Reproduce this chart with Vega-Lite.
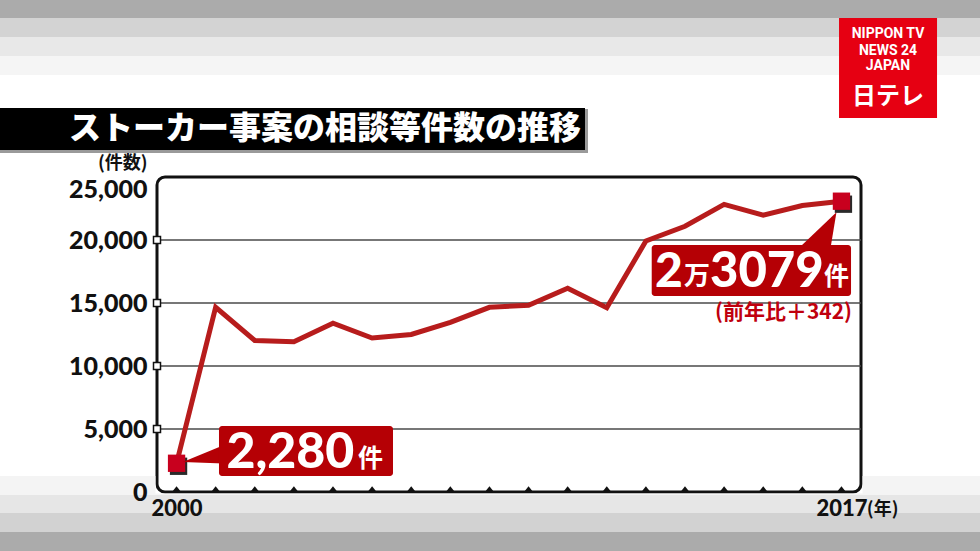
{
  "$schema": "https://vega.github.io/schema/vega-lite/v6.json",
  "width": 704,
  "height": 315,
  "autosize": {"type": "none"},
  "padding": {"left": 157, "top": 177, "right": 119, "bottom": 59},
  "background": "white",
  "config": {
    "view": {"fill": "white", "stroke": "#111111", "strokeWidth": 3, "cornerRadius": 8},
    "axis": {"zindex": 1, "domain": false, "ticks": false, "grid": false, "labelColor": "#111111", "labelFont": "Lato", "labelFontWeight": 900},
    "axisX": {"labelFontSize": 22, "labelPadding": 6, "labelFlush": false},
    "axisY": {"labelFontSize": 25, "labelPadding": 10, "labelFlush": false}
  },
  "resolve": {"axis": {"x": "independent", "y": "independent"}},
  "datasets": {
    "series": [
      {"year": 2000, "count": 2280},
      {"year": 2001, "count": 14662},
      {"year": 2002, "count": 12024},
      {"year": 2003, "count": 11923},
      {"year": 2004, "count": 13403},
      {"year": 2005, "count": 12220},
      {"year": 2006, "count": 12501},
      {"year": 2007, "count": 13463},
      {"year": 2008, "count": 14657},
      {"year": 2009, "count": 14823},
      {"year": 2010, "count": 16176},
      {"year": 2011, "count": 14618},
      {"year": 2012, "count": 19920},
      {"year": 2013, "count": 21089},
      {"year": 2014, "count": 22823},
      {"year": 2015, "count": 21968},
      {"year": 2016, "count": 22737},
      {"year": 2017, "count": 23079}
    ],
    "ticks": [{"count": 5000}, {"count": 10000}, {"count": 15000}, {"count": 20000}],
    "one": [{}]
  },
  "layer": [
    {"data": {"name": "one"}, "mark": {"type": "rect", "color": "#ababab", "clip": false},
     "encoding": {"x": {"datum": 1995, "type": "quantitative", "axis": null, "scale": {"domain": [1999.5, 2017.5], "nice": false, "zero": false}}, "x2": {"datum": 2021}, "y": {"datum": 40000, "type": "quantitative", "axis": null, "scale": {"domain": [0, 25000], "nice": false, "zero": true}}, "y2": {"datum": 37619}}},
    {"data": {"name": "one"}, "mark": {"type": "rect", "color": "#d3d3d3", "clip": false},
     "encoding": {"x": {"datum": 1995, "type": "quantitative", "axis": null}, "x2": {"datum": 2021}, "y": {"datum": 37619, "type": "quantitative", "axis": null}, "y2": {"datum": 36111}}},
    {"data": {"name": "one"}, "mark": {"type": "rect", "color": "#e8e8e8", "clip": false},
     "encoding": {"x": {"datum": 1995, "type": "quantitative", "axis": null}, "x2": {"datum": 2021}, "y": {"datum": 36111, "type": "quantitative", "axis": null}, "y2": {"datum": 34603}}},
    {"data": {"name": "one"}, "mark": {"type": "rect", "color": "#f5f5f5", "clip": false},
     "encoding": {"x": {"datum": 1995, "type": "quantitative", "axis": null}, "x2": {"datum": 2021}, "y": {"datum": 34603, "type": "quantitative", "axis": null}, "y2": {"datum": 33095}}},
    {"data": {"name": "one"}, "mark": {"type": "rect", "color": "#f4f4f4", "clip": false},
     "encoding": {"x": {"datum": 1995, "type": "quantitative", "axis": null}, "x2": {"datum": 1999.46}, "y": {"datum": 1270, "type": "quantitative", "axis": null}, "y2": {"datum": -238}}},
    {"data": {"name": "one"}, "mark": {"type": "rect", "color": "#f4f4f4", "clip": false},
     "encoding": {"x": {"datum": 2017.54, "type": "quantitative", "axis": null}, "x2": {"datum": 2021}, "y": {"datum": 1270, "type": "quantitative", "axis": null}, "y2": {"datum": -238}}},
    {"data": {"name": "one"}, "mark": {"type": "rect", "color": "#f4f4f4", "clip": false},
     "encoding": {"x": {"datum": 1995, "type": "quantitative", "axis": null}, "x2": {"datum": 2021}, "y": {"datum": -120, "type": "quantitative", "axis": null}, "y2": {"datum": -238}}},
    {"data": {"name": "one"}, "mark": {"type": "rect", "color": "#e6e6e6", "clip": false},
     "encoding": {"x": {"datum": 1995, "type": "quantitative", "axis": null}, "x2": {"datum": 2021}, "y": {"datum": -238, "type": "quantitative", "axis": null}, "y2": {"datum": -1667}}},
    {"data": {"name": "one"}, "mark": {"type": "rect", "color": "#d2d2d2", "clip": false},
     "encoding": {"x": {"datum": 1995, "type": "quantitative", "axis": null}, "x2": {"datum": 2021}, "y": {"datum": -1667, "type": "quantitative", "axis": null}, "y2": {"datum": -3175}}},
    {"data": {"name": "one"}, "mark": {"type": "rect", "color": "#ababab", "clip": false},
     "encoding": {"x": {"datum": 1995, "type": "quantitative", "axis": null}, "x2": {"datum": 2021}, "y": {"datum": -3175, "type": "quantitative", "axis": null}, "y2": {"datum": -5000}}},

    {"data": {"name": "one"}, "mark": {"type": "rect", "color": "#9a9a9a", "clip": false},
     "encoding": {"x": {"datum": 1995, "type": "quantitative", "axis": null}, "x2": {"datum": 2010.52}, "y": {"datum": 30400, "type": "quantitative", "axis": null}, "y2": {"datum": 26905}}},
    {"data": {"name": "one"}, "mark": {"type": "rect", "color": "#000000", "clip": false},
     "encoding": {"x": {"datum": 1995, "type": "quantitative", "axis": null}, "x2": {"datum": 2010.443}, "y": {"datum": 30476, "type": "quantitative", "axis": null}, "y2": {"datum": 27143}}},
    {"data": {"name": "one"}, "mark": {"type": "text", "text": "ストーカー事案の相談等件数の推移", "font": "Noto Sans CJK JP", "fontWeight": 900, "fontSize": 32, "color": "white", "align": "center", "baseline": "middle", "clip": false},
     "encoding": {"x": {"datum": 2003.796, "type": "quantitative", "axis": null}, "y": {"datum": 28810, "type": "quantitative", "axis": null}}},

    {"data": {"name": "one"}, "mark": {"type": "rect", "color": "#e60012", "clip": false},
     "encoding": {"x": {"datum": 2016.938, "type": "quantitative", "axis": null}, "x2": {"datum": 2019.444}, "y": {"datum": 37619, "type": "quantitative", "axis": null}, "y2": {"datum": 29683}}},
    {"data": {"name": "one"}, "mark": {"type": "text", "text": "NIPPON TV", "font": "Roboto", "fontWeight": "bold", "fontSize": 14, "color": "white", "align": "center", "baseline": "middle", "clip": false},
     "encoding": {"x": {"datum": 2018.19, "type": "quantitative", "axis": null}, "y": {"datum": 36349, "type": "quantitative", "axis": null}}},
    {"data": {"name": "one"}, "mark": {"type": "text", "text": "NEWS 24", "font": "Roboto", "fontWeight": "bold", "fontSize": 14, "color": "white", "align": "center", "baseline": "middle", "clip": false},
     "encoding": {"x": {"datum": 2018.19, "type": "quantitative", "axis": null}, "y": {"datum": 35000, "type": "quantitative", "axis": null}}},
    {"data": {"name": "one"}, "mark": {"type": "text", "text": "JAPAN", "font": "Roboto", "fontWeight": "bold", "fontSize": 14, "color": "white", "align": "center", "baseline": "middle", "clip": false},
     "encoding": {"x": {"datum": 2018.19, "type": "quantitative", "axis": null}, "y": {"datum": 33810, "type": "quantitative", "axis": null}}},
    {"data": {"name": "one"}, "mark": {"type": "text", "text": "日テレ", "font": "Noto Sans CJK JP", "fontWeight": "bold", "fontSize": 24, "color": "white", "align": "center", "baseline": "middle", "clip": false},
     "encoding": {"x": {"datum": 2018.19, "type": "quantitative", "axis": null}, "y": {"datum": 31350, "type": "quantitative", "axis": null}}},

    {"data": {"name": "ticks"}, "mark": {"type": "rule", "color": "#4a4a4a", "strokeWidth": 1.5},
     "encoding": {"x": {"datum": 1999.5, "type": "quantitative", "axis": null}, "x2": {"datum": 2017.5}, "y": {"field": "count", "type": "quantitative", "axis": null}}},
    {"data": {"name": "ticks"}, "mark": {"type": "point", "shape": "square", "size": 49, "filled": true, "fill": "white", "stroke": "#111111", "strokeWidth": 1.5, "opacity": 1, "clip": false},
     "encoding": {"x": {"datum": 1999.5, "type": "quantitative", "axis": null}, "y": {"field": "count", "type": "quantitative", "axis": null}}},
    {"data": {"name": "series"}, "mark": {"type": "point", "shape": "M-0.8,0L0,-1L0.8,0Z", "size": 130, "filled": true, "color": "#111111", "opacity": 1, "clip": false},
     "encoding": {"x": {"field": "year", "type": "quantitative", "axis": null}, "y": {"datum": 0, "type": "quantitative", "axis": null}}},

    {"data": {"name": "series"}, "mark": {"type": "line", "color": "#b71c1c", "strokeWidth": 5},
     "encoding": {
       "x": {"field": "year", "type": "quantitative",
             "axis": {"title": null, "values": [2000, 2017], "format": "d", "zindex": 2}},
       "y": {"field": "count", "type": "quantitative",
             "axis": {"title": "(件数)", "values": [0, 5000, 10000, 15000, 20000, 25000], "format": ",d", "zindex": 2,
                      "labelBaseline": {"condition": {"test": "datum.value === 25000", "value": "top"}, "value": "middle"},
                      "titleAngle": 0, "titleFont": "Noto Sans CJK JP", "titleFontSize": 18, "titleFontWeight": "bold", "titleColor": "#111111",
                      "titleAlign": "right", "titleBaseline": "middle", "titleX": -10, "titleY": -14}}
     }},

    {"data": {"name": "series"}, "transform": [{"filter": "datum.year === 2000 || datum.year === 2017"}],
     "mark": {"type": "point", "shape": "square", "size": 300, "filled": true, "color": "#2a2a2a", "opacity": 1, "clip": false},
     "encoding": {"x": {"field": "year", "type": "quantitative", "axis": null}, "y": {"field": "count", "type": "quantitative", "axis": null}, "xOffset": {"value": 2}, "yOffset": {"value": 3}}},
    {"data": {"name": "series"}, "transform": [{"filter": "datum.year === 2000 || datum.year === 2017"}],
     "mark": {"type": "point", "shape": "square", "size": 300, "filled": true, "color": "#c8001e", "opacity": 1, "clip": false},
     "encoding": {"x": {"field": "year", "type": "quantitative", "axis": null}, "y": {"field": "count", "type": "quantitative", "axis": null}}},

    {"data": {"name": "one"}, "mark": {"type": "point", "shape": "M0,0L1.1,-0.455L1.1,0.04Z", "size": 5476, "filled": true, "color": "#b50005", "opacity": 1, "clip": false},
     "encoding": {"x": {"datum": 2000.16, "type": "quantitative", "axis": null}, "y": {"datum": 2381, "type": "quantitative", "axis": null}}},
    {"data": {"name": "one"}, "mark": {"type": "rect", "color": "#b50005", "cornerRadius": 3, "clip": false},
     "encoding": {"x": {"datum": 2001.085, "type": "quantitative", "axis": null}, "x2": {"datum": 2005.534}, "y": {"datum": 5238, "type": "quantitative", "axis": null}, "y2": {"datum": 1270}}},
    {"data": {"name": "one"}, "mark": {"type": "text", "text": "2,280", "font": "Lato", "fontWeight": 900, "fontSize": 50, "color": "white", "align": "left", "baseline": "alphabetic", "clip": false},
     "encoding": {"x": {"datum": 2001.277, "type": "quantitative", "axis": null}, "y": {"datum": 1905, "type": "quantitative", "axis": null}}},
    {"data": {"name": "one"}, "mark": {"type": "text", "text": "件", "font": "Noto Sans CJK JP", "fontWeight": "bold", "fontSize": 25, "color": "white", "align": "left", "baseline": "alphabetic", "clip": false},
     "encoding": {"x": {"datum": 2004.639, "type": "quantitative", "axis": null}, "y": {"datum": 1984, "type": "quantitative", "axis": null}}},

    {"data": {"name": "one"}, "mark": {"type": "point", "shape": "M-0.111,0.244L-0.956,1.05L-0.244,1.05Z", "size": 8100, "filled": true, "color": "#b50005", "opacity": 1, "clip": false},
     "encoding": {"x": {"datum": 2017, "type": "quantitative", "axis": null}, "y": {"datum": 23079, "type": "quantitative", "axis": null}}},
    {"data": {"name": "one"}, "mark": {"type": "rect", "color": "#b50005", "cornerRadius": 3, "clip": false},
     "encoding": {"x": {"datum": 2012.149, "type": "quantitative", "axis": null}, "x2": {"datum": 2017.245}, "y": {"datum": 19603, "type": "quantitative", "axis": null}, "y2": {"datum": 15556}}},
    {"data": {"name": "one"}, "mark": {"type": "text", "text": "2", "font": "Lato", "fontWeight": 900, "fontSize": 48, "color": "white", "align": "left", "baseline": "alphabetic", "clip": false},
     "encoding": {"x": {"datum": 2012.233, "type": "quantitative", "axis": null}, "y": {"datum": 16270, "type": "quantitative", "axis": null}}},
    {"data": {"name": "one"}, "mark": {"type": "text", "text": "万", "font": "Noto Sans CJK JP", "fontWeight": "bold", "fontSize": 26, "color": "white", "align": "left", "baseline": "alphabetic", "clip": false},
     "encoding": {"x": {"datum": 2012.975, "type": "quantitative", "axis": null}, "y": {"datum": 16429, "type": "quantitative", "axis": null}}},
    {"data": {"name": "one"}, "mark": {"type": "text", "text": "3079", "font": "Lato", "fontWeight": 900, "fontSize": 49, "color": "white", "align": "left", "baseline": "alphabetic", "clip": false},
     "encoding": {"x": {"datum": 2013.64, "type": "quantitative", "axis": null}, "y": {"datum": 16270, "type": "quantitative", "axis": null}}},
    {"data": {"name": "one"}, "mark": {"type": "text", "text": "件", "font": "Noto Sans CJK JP", "fontWeight": "bold", "fontSize": 25, "color": "white", "align": "left", "baseline": "alphabetic", "clip": false},
     "encoding": {"x": {"datum": 2016.555, "type": "quantitative", "axis": null}, "y": {"datum": 16429, "type": "quantitative", "axis": null}}},
    {"data": {"name": "one"}, "mark": {"type": "text", "text": "(前年比＋342)", "font": "Noto Sans CJK JP", "fontWeight": "bold", "fontSize": 21, "color": "#c0000e", "align": "right", "baseline": "alphabetic", "clip": false},
     "encoding": {"x": {"datum": 2017.27, "type": "quantitative", "axis": null}, "y": {"datum": 13750, "type": "quantitative", "axis": null}}},

    {"data": {"name": "one"}, "mark": {"type": "text", "text": "(年)", "font": "Noto Sans CJK JP", "fontWeight": "bold", "fontSize": 18, "color": "#111111", "align": "left", "baseline": "alphabetic", "clip": false},
     "encoding": {"x": {"datum": 2017.65, "type": "quantitative", "axis": null}, "y": {"datum": -1825, "type": "quantitative", "axis": null}}}
  ]
}
